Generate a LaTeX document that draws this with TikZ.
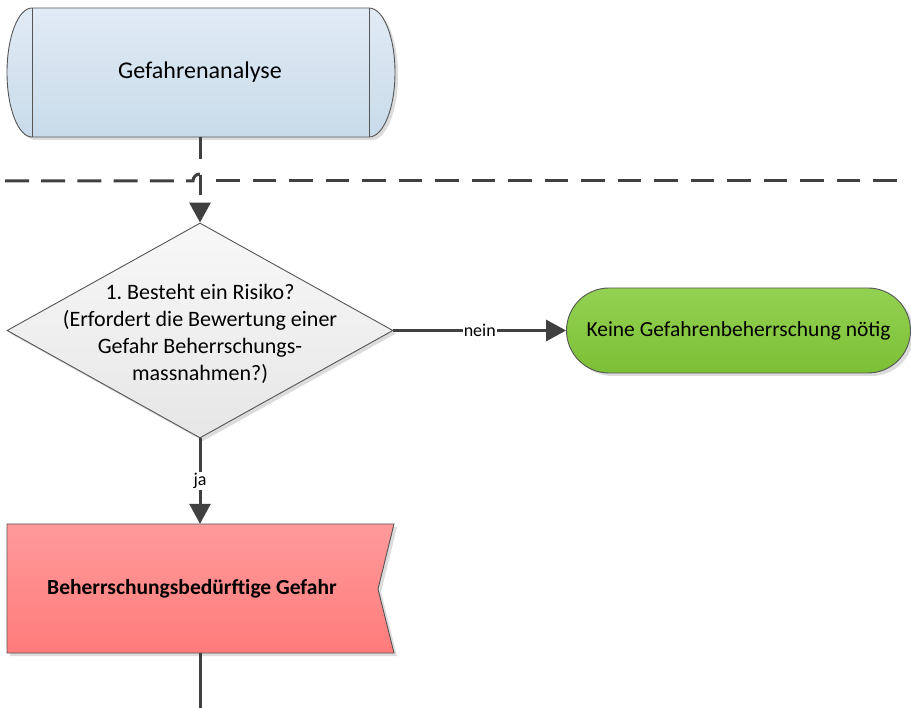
\documentclass[tikz,border=0pt]{standalone}
\usepackage{fontspec}
\setmainfont{Carlito}
\usetikzlibrary{arrows.meta,shapes.geometric}
\definecolor{lineg}{HTML}{404040}
\definecolor{bordg}{HTML}{555555}
\definecolor{shadowc}{HTML}{DCDCDC}
\definecolor{blue1}{HTML}{E1EBF5}
\definecolor{blue2}{HTML}{C8DBEA}
\definecolor{green1}{HTML}{93D152}
\definecolor{green2}{HTML}{7CC036}
\definecolor{red1}{HTML}{FF9A9A}
\definecolor{red2}{HTML}{FF7B7B}
\definecolor{gray1}{HTML}{F8F8F8}
\definecolor{gray2}{HTML}{E6E6E6}
\frenchspacing
\begin{document}
\begin{tikzpicture}[x=1pt,y=-1pt,
  shapeline/.style={draw=bordg, line width=0.9pt},
  conn/.style={draw=lineg, line width=3pt, -{Triangle[length=20pt,width=21pt]}},
  plainline/.style={draw=lineg, line width=3pt},
  lbl/.style={fill=white, inner sep=1pt, font=\fontsize{18}{21}\selectfont, text=black},
  sep/.style={draw=lineg, line width=3pt}
]
\useasboundingbox (0,0) rectangle (911,708);

% ---------- shadows ----------
\fill[shadowc] (35,11) -- (372,11) .. controls (386.4,11) and (398,39.9) .. (398,75.5)
  .. controls (398,111.1) and (386.4,140) .. (372,140) -- (35,140)
  .. controls (21.2,140) and (10,111.1) .. (10,75.5) .. controls (10,39.9) and (21.2,11) .. (35,11) -- cycle;
\fill[shadowc] (203,226) -- (396,333.5) -- (203,441) -- (10,333.5) -- cycle;
\fill[shadowc, rounded corners=42.5pt] (570,291) rectangle (914,376);
\fill[shadowc] (10,527) -- (397,527) -- (381,592) -- (397,656) -- (10,656) -- cycle;

% ---------- Gefahrenanalyse (terminator with side bars) ----------
\shade[top color=blue1, bottom color=blue2] (32,8) -- (369,8) .. controls (383.4,8) and (395,36.9) .. (395,72.5)
  .. controls (395,108.1) and (383.4,137) .. (369,137) -- (32,137)
  .. controls (18.2,137) and (7,108.1) .. (7,72.5) .. controls (7,36.9) and (18.2,8) .. (32,8) -- cycle;
\draw[shapeline] (32,8) -- (369,8) .. controls (383.4,8) and (395,36.9) .. (395,72.5)
  .. controls (395,108.1) and (383.4,137) .. (369,137) -- (32,137)
  .. controls (18.2,137) and (7,108.1) .. (7,72.5) .. controls (7,36.9) and (18.2,8) .. (32,8) -- cycle;
\draw[shapeline] (32,8) -- (32,137);
\draw[shapeline] (369,8) -- (369,137);
\node[minimum width=388pt, minimum height=129pt, inner sep=0pt,
      font=\fontsize{24}{29}\selectfont] (ga) at (200,72.5) {Gefahrenanalyse};

% ---------- horizontal dashed separator with line jump ----------
\coordinate (sepL) at (5,181);
\coordinate (hopA) at (193,181);
\coordinate (hopT) at (200,174);
\coordinate (sepR1) at (216,181);
\coordinate (sepR2) at (897,181);
\draw[sep, dash pattern=on 24pt off 12.2pt] (sepL) -- (hopA) .. controls (193,177.1) and (196.1,174) .. (hopT);
\draw[sep, dash pattern=on 23.5pt off 13pt] (sepR1) -- (sepR2);

% ---------- decision diamond ----------
\node[diamond, shapeline, top color=gray1, bottom color=gray2,
      minimum width=386pt, minimum height=215pt, inner sep=0pt] (d) at (200,330.5) {};
\node[align=center, font=\fontsize{22}{27}\selectfont, inner sep=0pt] (dtext) at (200,334)
  {1. Besteht ein Risiko?\\(Erfordert die Bewertung einer\\Gefahr Beherrschungs-\\massnahmen?)};

% ---------- green terminator ----------
\node[shapeline, rounded corners=42.5pt, top color=green1, bottom color=green2,
      minimum width=344pt, minimum height=85pt, inner sep=0pt,
      font=\fontsize{21.5}{26}\selectfont] (g) at (738.5,330.5) {Keine Gefahrenbeherrschung nötig};

% ---------- red flag ----------
\shade[top color=red1, bottom color=red2] (7,524) -- (394,524) -- (378,589) -- (394,653) -- (7,653) -- cycle;
\draw[shapeline] (7,524) -- (394,524) -- (378,589) -- (394,653) -- (7,653) -- cycle;
\node[minimum width=387pt, minimum height=129pt, inner sep=0pt,
      font=\bfseries\fontsize{21.5}{26}\selectfont] (r) at (200,588.5)
  {\hspace*{-16pt}Beherrschungsbedürftige Gefahr};

% ---------- connectors ----------
\draw[conn, dash pattern=on 22pt off 16pt on 20pt off 60pt] (ga.south) -- (d.north);
\draw[conn] (d.east) -- node[lbl] {nein} (g.west);
\draw[conn] (d.south) -- node[lbl] {ja} (r.north);
\coordinate (bend) at (200,712);
\draw[plainline] (r.south) -- (bend);
\end{tikzpicture}
\end{document}
